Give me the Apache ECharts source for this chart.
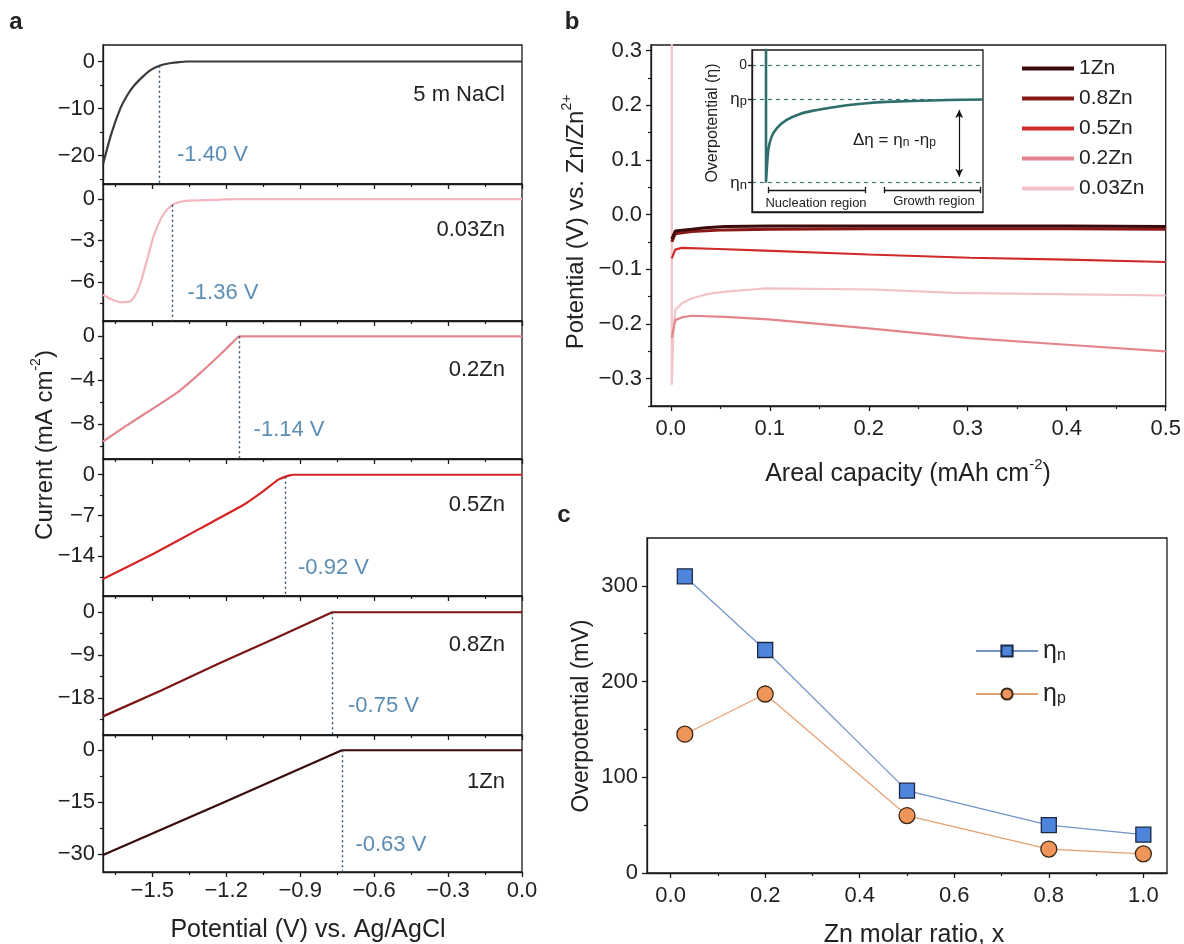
<!DOCTYPE html>
<html><head><meta charset="utf-8">
<script src="https://cdn.jsdelivr.net/npm/echarts@6/dist/echarts.min.js"></script>
<style>html,body{margin:0;padding:0;background:#fff}#c{width:1184px;height:944px}</style>
</head><body><div id="c"></div>
<script>
const FONT = '"Liberation Sans", Arial, sans-serif';
// ---------- Panel a data ----------
const aNames = ['5 m NaCl', '0.03Zn', '0.2Zn', '0.5Zn', '0.8Zn', '1Zn'];
const aColors = ['#3a3a3a', '#f2b6be', '#e4868f', '#d42424', '#7c1414', '#3a0a0a'];
const curveNaCl = [[-1.7,-21.8],[-1.666,-15.3],[-1.63,-10.0],[-1.601,-7.1],[-1.572,-5.0],[-1.536,-3.1],[-1.507,-1.84],[-1.471,-0.92],[-1.435,-0.42],[-1.391,-0.14],[-1.363,0],[0,0]];
const curve003 = [[-1.7,-6.9],[-1.659,-7.28],[-1.623,-7.45],[-1.587,-7.35],[-1.558,-6.55],[-1.536,-5.35],[-1.514,-3.9],[-1.493,-2.58],[-1.464,-1.37],[-1.435,-0.65],[-1.406,-0.29],[-1.363,-0.12],[-1.247,-0.05],[-1.16,0],[0,0]];
const curve02 = [[-1.7,-9.6],[-1.608,-8.2],[-1.493,-6.53],[-1.392,-5.02],[-1.305,-3.34],[-1.218,-1.52],[-1.174,-0.55],[-1.146,0],[0,0]];
const curve05 = [[-1.7,-17.9],[-1.493,-13.5],[-1.305,-9.2],[-1.131,-5.2],[-1.044,-2.63],[-0.987,-0.8],[-0.943,-0.11],[-0.929,0],[0,0]];
const curve08 = [[-1.7,-21.8],[-1.464,-16.4],[-1.232,-10.8],[-1.001,-5.44],[-0.77,0],[0,0]];
const curve1 = [[-1.7,-30.2],[-1.218,-15.3],[-0.731,0],[0,0]];
const aCurves = [curveNaCl, curve003, curve02, curve05, curve08, curve1];
const aSmooth = [0.25, 0.25, 0.15, 0.15, 0, 0];
const aYRanges = [[-26,3.5],[-8.8,1.1],[-11.2,1.4],[-20.8,2.7],[-25.7,3.4],[-35.1,4.4]];
const aYMajor = [[0,-10,-20],[0,-3,-6],[0,-4,-8],[0,-7,-14],[0,-9,-18],[0,-15,-30]];
const aYMinor = [[-5,-15,-25],[-1.5,-4.5,-7.5],[-2,-6,-10],[-3.5,-10.5,-17.5],[-4.5,-13.5,-22.5],[-7.5,-22.5]];
const aXMajor = [-1.5,-1.2,-0.9,-0.6,-0.3,0];
const aXMinor = [-1.65,-1.35,-1.05,-0.75,-0.45,-0.15];
const onsetX = [-1.471,-1.419,-1.146,-0.962,-0.770,-0.731];
const onsetTop = [-0.92,-0.4,0,-0.34,0,0];
const onsetText = ['-1.40 V','-1.36 V','-1.14 V','-0.92 V','-0.75 V','-0.63 V'];
// ---------- Panel b data ----------
const bNames = ['1Zn','0.8Zn','0.5Zn','0.2Zn','0.03Zn'];
const bColors = ['#3c0a0a','#8a1818','#d02a2a','#e4848c','#f2c2c6'];
const b1Zn = [[0.001,-0.045],[0.0045,-0.03],[0.021,-0.027],[0.035,-0.024],[0.055,-0.022],[0.1,-0.021],[0.2,-0.021],[0.3,-0.021],[0.4,-0.021],[0.5,-0.022]];
const b08Zn = [[0.001,-0.05],[0.0045,-0.035],[0.021,-0.031],[0.055,-0.028],[0.1,-0.027],[0.2,-0.026],[0.3,-0.026],[0.4,-0.026],[0.5,-0.027]];
const b05Zn = [[0.001,-0.08],[0.0045,-0.064],[0.011,-0.061],[0.048,-0.063],[0.095,-0.066],[0.2,-0.073],[0.302,-0.079],[0.4,-0.0824],[0.5,-0.0867]];
const b02Zn = [[0.001,-0.225],[0.0045,-0.193],[0.011,-0.188],[0.021,-0.185],[0.055,-0.187],[0.0987,-0.1915],[0.2,-0.208],[0.302,-0.226],[0.4,-0.238],[0.5,-0.25]];
const b003Zn = [[0.001,0.4],[0.001,-0.311],[0.0025,-0.22],[0.0045,-0.1745],[0.0113,-0.162],[0.0214,-0.153],[0.038,-0.145],[0.055,-0.141],[0.082,-0.137],[0.095,-0.135],[0.205,-0.137],[0.286,-0.143],[0.5,-0.148]];
const bCurves = [b1Zn, b08Zn, b05Zn, b02Zn, b003Zn];
const bWidths = [3, 3, 2.2, 2.2, 2.2];
const bXMajor = [0,0.1,0.2,0.3,0.4,0.5];
const bXMinor = [0.05,0.15,0.25,0.35,0.45];
const bYMajor = [-0.3,-0.2,-0.1,0,0.1,0.2,0.3];
const bYMinor = [-0.35,-0.25,-0.15,-0.05,0.05,0.15,0.25];
// inset (schematic, arbitrary units)
const insetCurve = [[6.06,0.3],[6.06,-1.0],[7.06,-0.722],[8.5,-0.609],[10.7,-0.538],[15,-0.467],[20.8,-0.416],[26.5,-0.388],[33.8,-0.363],[41,-0.342],[49.7,-0.325],[58.3,-0.314],[69.8,-0.306],[85,-0.298],[100,-0.293]];
const insetEtaP = -0.291, insetEtaN = -1.0;
const insetArrowX = 89.7, insetArrow = [-0.382, -0.949];
const nucleationSpan = [7.06, 48.9], growthSpan = [57.1, 98.7], bracketY = -1.062;
// ---------- Panel c data ----------
const cX = [0.03, 0.2, 0.5, 0.8, 1.0];
const cEtaN = [310, 233, 86, 50, 40];
const cEtaP = [145, 187, 60, 25, 20];
const cXMajor = [0,0.2,0.4,0.6,0.8,1.0];
const cXMinor = [0.1,0.3,0.5,0.7,0.9];
const cYMajor = [0,100,200,300];
const cYMinor = [50,150,250];

// ---------- build ----------
const INK = '#1a1a1a';
const grids = [], xAxes = [], yAxes = [], series = [];
function addGrid(box){ grids.push(Object.assign({show:true, borderColor:INK, borderWidth:1.3, backgroundColor:'rgba(0,0,0,0)'}, box)); return grids.length-1; }
function addAxis(list, g, o){
  list.push({type:'value', gridIndex:g, min:o.min, max:o.max, position:o.pos, splitLine:{show:false},
    axisLine:{show:true, onZero:false, lineStyle:{color:INK, width:1.3}},
    axisTick:{show:o.ticks!==false, inside:false, length:o.tl||5, customValues:o.majors, lineStyle:{color:INK, width:1.3}},
    axisLabel:{show:!!o.labels, customValues:o.majors, formatter:o.fmt, fontSize:o.fs||22, color:'#222', fontFamily:FONT, margin:o.margin||8, rich:o.rich}});
  const idx = list.length-1;
  if (o.minors) list.push({type:'value', gridIndex:g, min:o.min, max:o.max, position:o.pos, splitLine:{show:false},
    axisLine:{show:false, onZero:false}, axisTick:{show:true, length:3, customValues:o.minors, lineStyle:{color:INK, width:1.2}}, axisLabel:{show:false}});
  return idx;
}
const minus = s => s.replace('-', '\u2212');
const fmtInt = v => minus(String(Math.round(v*10)/10));
const fmt1 = v => minus((Math.abs(v) < 1e-9 ? 0 : v).toFixed(1));

// Panel a
const aTop = [45,184,321,459,596,735], aBot = [184,321,459,596,735,872];
for (let i = 0; i < 6; i++) {
  const g = addGrid({left:103, top:aTop[i], width:419, height:aBot[i]-aTop[i]});
  const xi = addAxis(xAxes, g, {min:-1.7, max:0, pos:'bottom', majors:aXMajor, minors:aXMinor, labels:i===5, fmt:fmt1, fs:22, margin:8});
  const yi = addAxis(yAxes, g, {min:aYRanges[i][0], max:aYRanges[i][1], pos:'left', majors:aYMajor[i], minors:aYMinor[i], labels:true, fmt:fmtInt, fs:22, margin:8});
  series.push({type:'line', name:'a '+aNames[i], xAxisIndex:xi, yAxisIndex:yi, data:aCurves[i], showSymbol:false, symbol:'none', smooth:aSmooth[i],
    lineStyle:{color:aColors[i], width:2.2}, itemStyle:{color:aColors[i]}, z:3,
    markLine:{silent:true, symbol:'none', label:{show:false}, lineStyle:{color:'#2f4a66', type:[2,3], width:1.4},
      data:[[{coord:[onsetX[i], onsetTop[i]]},{coord:[onsetX[i], aYRanges[i][0]]}]]}});
}
// Panel b main
const gb = addGrid({left:651, top:45, width:516, height:361});
const bxi = addAxis(xAxes, gb, {min:-0.02, max:0.5, pos:'bottom', majors:bXMajor, minors:bXMinor, labels:true, fmt:fmt1, fs:22, margin:12});
const byi = addAxis(yAxes, gb, {min:-0.35, max:0.31, pos:'left', majors:bYMajor, minors:bYMinor, labels:true, fmt:fmt1, fs:22, margin:9});
for (let i = bCurves.length-1; i >= 0; i--) {
  series.push({type:'line', name:bNames[i], xAxisIndex:bxi, yAxisIndex:byi, data:bCurves[i], showSymbol:false, symbol:'none',
    lineStyle:{color:bColors[i], width:bWidths[i]}, itemStyle:{color:bColors[i]}, z:3});
}
// Inset
const gi = addGrid({left:752, top:50, width:231, height:162, backgroundColor:'#fff', z:5});
const ixi = addAxis(xAxes, gi, {min:0, max:100, pos:'bottom', majors:[], labels:false, ticks:false});
const iyi = addAxis(yAxes, gi, {min:-1.249, max:0.127, pos:'left', majors:[0, insetEtaP, insetEtaN], labels:true, fs:14, margin:5, tl:4,
  fmt: v => v === 0 ? '{z|0}' : (v > -0.5 ? '{e|\u03b7}{s|p}' : '{e|\u03b7}{s|n}'),
  rich:{z:{fontSize:14, color:'#222', fontFamily:FONT}, e:{fontSize:17, color:'#222', fontFamily:FONT, lineHeight:18, verticalAlign:'bottom'}, s:{fontSize:13, color:'#222', fontFamily:FONT, lineHeight:12, verticalAlign:'bottom'}}});
xAxes[ixi].z = 6; yAxes[iyi].z = 6;
const capH = 0.027;
const bracket = (a, b) => [
  [{coord:[a, bracketY]},{coord:[b, bracketY]}],
  [{coord:[a, bracketY-capH]},{coord:[a, bracketY+capH]}],
  [{coord:[b, bracketY-capH]},{coord:[b, bracketY+capH]}]];
series.push({type:'line', name:'inset', xAxisIndex:ixi, yAxisIndex:iyi, data:insetCurve, showSymbol:false, symbol:'none', z:7, smooth:0.2,
  lineStyle:{color:'#2e6e6c', width:2.6}, itemStyle:{color:'#2e6e6c'},
  markLine:{silent:true, symbol:'none', label:{show:false}, z:6,
    lineStyle:{color:'#3c7472', type:[4,4], width:1.2},
    data:[{yAxis:0},{yAxis:insetEtaP},{yAxis:insetEtaN},
      [{coord:[insetArrowX, insetArrow[0]], symbol:'arrow', symbolSize:[6,8], lineStyle:{type:'solid', color:'#111', width:1.2}},{coord:[insetArrowX, insetArrow[1]], symbol:'arrow', symbolSize:[6,8]}],
      ...bracket(nucleationSpan[0], nucleationSpan[1]).map(d => [Object.assign({lineStyle:{type:'solid', color:'#111', width:1.3}}, d[0]), d[1]]),
      ...bracket(growthSpan[0], growthSpan[1]).map(d => [Object.assign({lineStyle:{type:'solid', color:'#111', width:1.3}}, d[0]), d[1]])
    ]}});
// Panel c
const gc = addGrid({left:647, top:538, width:520, height:335});
const cxi = addAxis(xAxes, gc, {min:-0.05, max:1.05, pos:'bottom', majors:cXMajor, minors:cXMinor, labels:true, fmt:fmt1, fs:22, margin:12});
const cyi = addAxis(yAxes, gc, {min:0, max:350, pos:'left', majors:cYMajor, minors:cYMinor, labels:true, fmt:fmtInt, fs:22, margin:9});
series.push({type:'line', name:'\u03b7n', xAxisIndex:cxi, yAxisIndex:cyi, data:cX.map((x,i)=>[x,cEtaN[i]]),
  symbol:'rect', symbolSize:15, lineStyle:{color:'#7293c8', width:1.2}, itemStyle:{color:'#4d84dc', borderColor:'#1c2a44', borderWidth:1.3}, z:4});
series.push({type:'line', name:'\u03b7p', xAxisIndex:cxi, yAxisIndex:cyi, data:cX.map((x,i)=>[x,cEtaP[i]]),
  symbol:'circle', symbolSize:16, lineStyle:{color:'#e4a070', width:1.2}, itemStyle:{color:'#f0955a', borderColor:'#3a2818', borderWidth:1.3}, z:4});

// ---------- texts ----------
const txt = (x, y, text, o) => ({type:'text', x, y, rotation:(o&&o.rot)||0, z:50,
  style:Object.assign({text, fill:'#222', font:((o&&o.weight)||'normal')+' '+((o&&o.fs)||22)+'px '+FONT, align:(o&&o.align)||'left', verticalAlign:'middle'}, (o&&o.style)||{})});
const richAxis = (fs) => ({m:{fontSize:fs, fontFamily:FONT, fill:'#222', lineHeight:fs+4, verticalAlign:'bottom'}, sup:{fontSize:Math.round(fs*0.6), fontFamily:FONT, fill:'#222', lineHeight:fs+4, verticalAlign:'top'}});
const graphic = [
  txt(16, 22, 'a', {fs:24, weight:'bold', align:'center'}),
  txt(572, 22, 'b', {fs:24, weight:'bold', align:'center'}),
  txt(564, 515, 'c', {fs:24, weight:'bold', align:'center'}),
  txt(308, 930, 'Potential (V) vs. Ag/AgCl', {fs:25, align:'center'}),
  txt(43, 445, '', {rot:Math.PI/2, align:'center', style:{text:'{m|Current (mA cm}{sup|-2}{m|)}', rich:richAxis(24)}}),
  txt(574, 222, '', {rot:Math.PI/2, align:'center', style:{text:'{m|Potential (V) vs. Zn/Zn}{sup|2+}', rich:richAxis(24)}}),
  txt(908, 472, '', {align:'center', style:{text:'{m|Areal capacity (mAh cm}{sup|-2}{m|)}', rich:richAxis(25)}}),
  txt(582, 716, 'Overpotential (mV)', {fs:23, rot:Math.PI/2, align:'center'}),
  txt(914, 935, 'Zn molar ratio, x', {fs:25, align:'center'}),
  txt(713, 123, 'Overpotential (\u03b7)', {fs:16, rot:Math.PI/2, align:'center'}),
  txt(853, 140, '', {style:{text:'{m|\u0394\u03b7 = \u03b7}{s|n}{m| -\u03b7}{s|p}', rich:{m:{fontSize:17, fontFamily:FONT, fill:'#222', lineHeight:18, verticalAlign:'bottom'}, s:{fontSize:12, fontFamily:FONT, fill:'#222', lineHeight:12, verticalAlign:'bottom'}}}}),
  txt(816, 203, 'Nucleation region', {fs:13, align:'center'}),
  txt(934, 201, 'Growth region', {fs:13, align:'center'})
];
const aLabelY = [95, 230, 370, 505, 645, 782];
const onsetLX = [177, 187.5, 253.6, 298, 348, 355.4];
const onsetLY = [155, 293, 430, 568, 706, 845];
for (let i = 0; i < 6; i++) {
  graphic.push(txt(505, aLabelY[i], aNames[i], {fs:22, align:'right'}));
  graphic.push(txt(onsetLX[i], onsetLY[i], onsetText[i], {fs:22, style:{fill:'#5b8db5'}}));
}

const option = {
  animation:false,
  textStyle:{fontFamily:FONT},
  grid:grids, xAxis:xAxes, yAxis:yAxes, series,
  legend:[
    {data:bNames, orient:'vertical', left:1017, top:53, icon:'rect', itemWidth:52, itemHeight:4, itemGap:9, selectedMode:false,
      textStyle:{fontSize:21, color:'#222', fontFamily:FONT, lineHeight:21}},
    {data:['\u03b7n','\u03b7p'], orient:'vertical', left:970, top:634, itemWidth:62, itemHeight:14, itemGap:18, selectedMode:false,
      formatter: n => '{m|\u03b7}{s|' + n.slice(1) + '}',
      textStyle:{color:'#222', fontFamily:FONT, rich:{m:{fontSize:25, fontFamily:FONT, lineHeight:26, verticalAlign:'bottom'}, s:{fontSize:16, fontFamily:FONT, lineHeight:14, verticalAlign:'bottom'}}}}
  ],
  graphic
};
const chart = echarts.init(document.getElementById('c'));
chart.setOption(option);
</script></body></html>
